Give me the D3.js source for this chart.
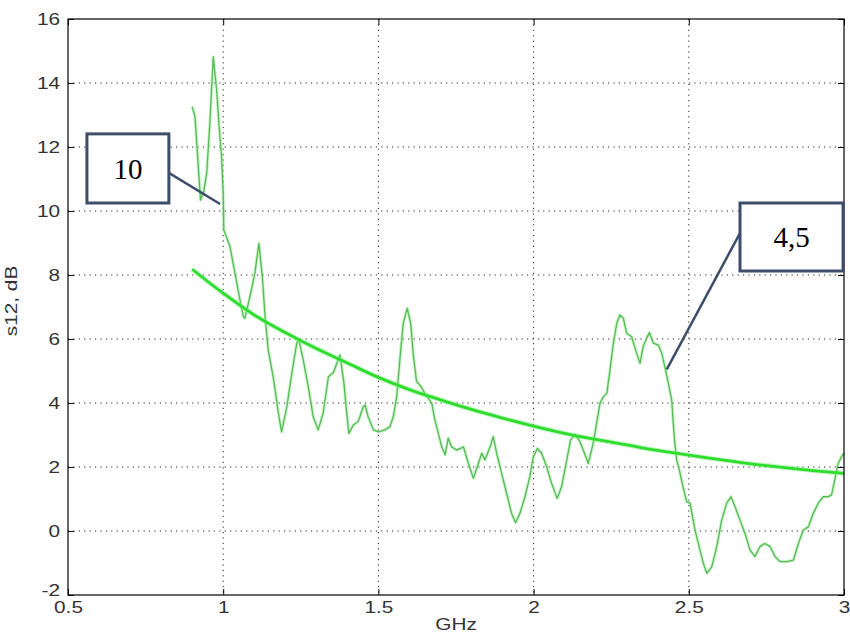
<!DOCTYPE html>
<html><head><meta charset="utf-8">
<script src="https://cdn.jsdelivr.net/npm/d3@7"></script>
<style>body{margin:0;background:#fff}svg{display:block}</style>
</head><body><svg id="c" width="850" height="639"></svg>
<script>
// ---- data ----
const freq = [0.900,0.909,0.927,0.937,0.947,0.957,0.968,0.979,0.987,0.995,1.000,1.002,1.022,1.038,1.054,1.065,1.070,1.086,1.102,1.115,1.126,1.135,1.145,1.161,1.178,1.188,1.205,1.221,1.237,1.244,1.258,1.274,1.290,1.306,1.322,1.339,1.355,1.376,1.389,1.398,1.405,1.419,1.435,1.451,1.457,1.467,1.484,1.500,1.521,1.537,1.548,1.559,1.570,1.580,1.593,1.604,1.613,1.623,1.634,1.650,1.672,1.682,1.693,1.704,1.715,1.725,1.736,1.752,1.768,1.774,1.790,1.806,1.822,1.833,1.843,1.860,1.870,1.881,1.897,1.913,1.929,1.942,1.956,1.972,1.988,1.999,2.012,2.026,2.042,2.058,2.076,2.090,2.107,2.119,2.133,2.149,2.166,2.176,2.192,2.203,2.214,2.225,2.236,2.246,2.257,2.268,2.278,2.289,2.300,2.316,2.332,2.343,2.353,2.364,2.373,2.386,2.402,2.413,2.423,2.434,2.445,2.450,2.455,2.461,2.472,2.482,2.493,2.504,2.520,2.536,2.547,2.558,2.574,2.590,2.606,2.622,2.636,2.649,2.665,2.681,2.697,2.713,2.729,2.745,2.762,2.778,2.794,2.815,2.837,2.853,2.869,2.885,2.901,2.917,2.933,2.949,2.960,2.970,2.981,2.992,3.000];
const s12 = [13.26,12.95,10.34,10.60,11.19,12.75,14.82,13.78,12.63,11.65,10.55,9.41,8.88,8.05,7.22,6.70,6.65,7.32,8.05,8.99,7.95,6.70,5.66,4.82,3.68,3.10,3.88,4.93,5.87,5.97,5.34,4.51,3.57,3.16,3.68,4.82,4.95,5.50,4.62,3.68,3.05,3.31,3.42,3.88,3.94,3.57,3.16,3.10,3.16,3.26,3.57,4.20,5.45,6.49,6.96,6.49,5.45,4.67,4.56,4.30,3.99,3.47,3.05,2.63,2.38,2.90,2.63,2.53,2.60,2.63,2.11,1.65,2.11,2.43,2.22,2.63,2.95,2.43,1.80,1.18,0.55,0.26,0.55,1.07,1.70,2.32,2.58,2.43,2.01,1.49,1.02,1.38,2.22,2.84,3.02,2.80,2.38,2.11,2.74,3.37,3.99,4.20,4.30,5.03,5.87,6.49,6.75,6.65,6.18,6.07,5.55,5.24,5.76,6.02,6.20,5.87,5.81,5.55,5.13,4.62,4.09,3.37,2.74,2.22,1.80,1.35,0.92,0.87,0.03,-0.59,-1.01,-1.32,-1.12,-0.49,0.34,0.87,1.07,0.76,0.34,-0.07,-0.59,-0.80,-0.49,-0.39,-0.49,-0.80,-0.96,-0.96,-0.91,-0.39,0.03,0.13,0.55,0.87,1.07,1.07,1.13,1.59,2.11,2.32,2.43];
const trendFreq = [0.9,1.0,1.1,1.2,1.3,1.4,1.5,1.6,1.7,1.8,1.9,2.0,2.1,2.2,2.3,2.4,2.5,2.6,2.7,2.8,2.9,3.0];
const trendVals = [8.18,7.43,6.75,6.20,5.70,5.25,4.80,4.42,4.10,3.80,3.53,3.28,3.05,2.86,2.69,2.52,2.37,2.23,2.10,1.99,1.89,1.80];
const xTicks = [0.5,1,1.5,2,2.5,3];
const xTickLabels = ["0.5","1","1.5","2","2.5","3"];
const yTicks = [-2,0,2,4,6,8,10,12,14,16];
const yTickLabels = ["-2","0","2","4","6","8","10","12","14","16"];
const xLabel = "GHz";
const yLabel = "s12, dB";
const annoLabels = ["10","4,5"];
const annoBoxX0 = [0.561,2.665], annoBoxX1 = [0.825,2.997];
const annoBoxY0 = [12.41,10.25], annoBoxY1 = [10.25,8.125];
const annoFromX = [0.825,2.665], annoFromY = [11.19,9.31];
const annoToX = [0.99,2.429], annoToY = [10.22,5.05];

// ---- layout ----
const W = 850, H = 639;
const m = {l:68, t:19, r:6, b:44};
const iw = W - m.l - m.r, ih = H - m.t - m.b;
const svg = d3.select("#c");
svg.append("rect").attr("width",W).attr("height",H).attr("fill","#fff");
const g = svg.append("g").attr("transform",`translate(${m.l},${m.t})`);
const x = d3.scaleLinear().domain([0.5,3]).range([0,iw]);
const y = d3.scaleLinear().domain([-2,16]).range([ih,0]);
const SX = 1.3;
const font = "'Liberation Sans', Arial, sans-serif";

// grid
g.append("g").selectAll("line").data(xTicks.slice(1,-1)).join("line")
  .attr("x1",d=>x(d)).attr("x2",d=>x(d)).attr("y1",0).attr("y2",ih)
  .attr("stroke","#222").attr("stroke-width",1).attr("stroke-dasharray","1.2,4.2");
g.append("g").selectAll("line").data(yTicks.slice(1,-1)).join("line")
  .attr("y1",d=>y(d)).attr("y2",d=>y(d)).attr("x1",0).attr("x2",iw)
  .attr("stroke","#222").attr("stroke-width",1).attr("stroke-dasharray","1.2,4.2");

// lines
const pts = freq.map((f,i)=>[f,s12[i]]);
const tpts = trendFreq.map((f,i)=>[f,trendVals[i]]);
const line = d3.line().x(d=>x(d[0])).y(d=>y(d[1]));
const tline = d3.line().x(d=>x(d[0])).y(d=>y(d[1])).curve(d3.curveMonotoneX);
g.append("path").attr("d",line(pts)).attr("fill","none").attr("stroke","#9cf09c").attr("stroke-width",3.2).attr("stroke-opacity",0.55).attr("stroke-linejoin","round");
g.append("path").attr("d",line(pts)).attr("fill","none").attr("stroke","#58b858").attr("stroke-width",1.3).attr("stroke-linejoin","round");
g.append("path").attr("d",tline(tpts)).attr("fill","none").attr("stroke","#8ff08f").attr("stroke-width",5).attr("stroke-opacity",0.5);
g.append("path").attr("d",tline(tpts)).attr("fill","none").attr("stroke","#2edc2e").attr("stroke-width",2.8);

// axes (inward ticks)
function styleText(sel){
  sel.selectAll("text").attr("font-family",font).attr("font-size",16).attr("fill","#333")
    .each(function(){ const t=d3.select(this); const xv=+t.attr("x")||0; t.attr("x",xv/SX).attr("transform",`scale(${SX},1)`); });
}
const ax = g.append("g").attr("transform",`translate(0,${ih})`)
  .call(d3.axisBottom(x).tickValues(xTicks).tickFormat((d,i)=>xTickLabels[i]).tickSizeInner(-6).tickSizeOuter(0).tickPadding(7));
const ay = g.append("g")
  .call(d3.axisLeft(y).tickValues(yTicks).tickFormat((d,i)=>yTickLabels[i]).tickSizeInner(-6).tickSizeOuter(0).tickPadding(8));
const axT = g.append("g").call(d3.axisTop(x).tickValues(xTicks).tickFormat("").tickSizeInner(-6).tickSizeOuter(0));
const ayR = g.append("g").attr("transform",`translate(${iw},0)`).call(d3.axisRight(y).tickValues(yTicks).tickFormat("").tickSizeInner(-6).tickSizeOuter(0));
[ax,ay,axT,ayR].forEach(a=>{a.select(".domain").remove(); a.selectAll("line").attr("stroke","#000");});
styleText(ax); styleText(ay);
// lift the lowest y label slightly so it clears the x labels (as in the reference)
ay.selectAll(".tick").filter(d=>d===yTicks[0]).select("text").attr("dy","0.05em");
// frame
g.append("rect").attr("width",iw).attr("height",ih).attr("fill","none").attr("stroke","#000").attr("stroke-width",1.2);

// axis labels
svg.append("text").attr("transform",`translate(${m.l+iw/2},${H-9}) scale(${SX},1)`).attr("text-anchor","middle")
  .attr("font-family",font).attr("font-size",16).attr("fill","#333").text(xLabel);
svg.append("text").attr("transform",`translate(17,${m.t+ih/2-6}) rotate(-90) scale(${SX},1)`).attr("text-anchor","middle")
  .attr("font-family",font).attr("font-size",16).attr("fill","#333").text(yLabel);

// annotations
annoLabels.forEach((lab,i)=>{
  g.append("line").attr("x1",x(annoFromX[i])).attr("y1",y(annoFromY[i])).attr("x2",x(annoToX[i])).attr("y2",y(annoToY[i]))
    .attr("stroke","#3e4d6b").attr("stroke-width",2.5);
  const bx = x(annoBoxX0[i]), by = y(annoBoxY0[i]), bw = x(annoBoxX1[i])-bx, bh = y(annoBoxY1[i])-by;
  g.append("rect").attr("x",bx).attr("y",by).attr("width",bw).attr("height",bh)
    .attr("fill","#fff").attr("stroke","#3e4d6b").attr("stroke-width",3);
  g.append("text").attr("x",bx+bw/2).attr("y",by+bh/2).attr("dy","0.35em").attr("text-anchor","middle")
    .attr("font-family","'Liberation Serif','Times New Roman',serif").attr("font-size",29).attr("fill","#000").text(lab);
});
</script></body></html>
